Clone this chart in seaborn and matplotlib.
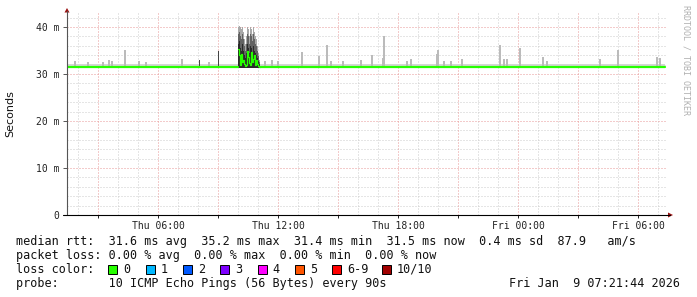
import numpy as np
import pandas as pd
import matplotlib
matplotlib.use("Agg")
import matplotlib.pyplot as plt
from matplotlib.lines import Line2D
from matplotlib.patches import Polygon, Rectangle
import seaborn as sns

# ---------------- data ----------------
x_tick_hours = [6, 12, 18, 24, 30]
x_tick_labels = ["Thu 06:00", "Thu 12:00", "Thu 18:00", "Fri 00:00", "Fri 06:00"]
y_ticks = [0, 10, 20, 30, 40]
y_tick_labels = ["0", "10 m", "20 m", "30 m", "40 m"]

# median rtt (ms), step segments (hour since Thu 00:00)
pre_hours = [1.45, 2, 3, 4, 5, 6, 7, 8, 9, 10.0]
pre_median = [31.6, 31.5, 31.6, 31.6, 31.5, 31.6, 31.6, 31.5, 31.6, 31.6]
post_hours = [11.1, 12, 13, 14, 15, 16, 17, 18, 19, 20, 21, 22, 23, 24, 25,
              26, 27, 28, 29, 30, 31, 31.35]
post_median = [31.6, 31.5, 31.6, 31.6, 31.6, 31.5, 31.6, 31.6, 31.5, 31.6, 31.5,
               31.6, 31.5, 31.5, 31.6, 31.5, 31.6, 31.5, 31.5, 31.6, 31.6, 31.6]

# burst period around Thu 10:00 - 11:00
burst_hours = [10.0, 10.05, 10.1, 10.15, 10.2, 10.25, 10.3, 10.35, 10.4, 10.45, 10.5,
               10.55, 10.6, 10.65, 10.7, 10.75, 10.8, 10.85, 10.9, 10.95, 11.0, 11.05]
burst_median = [35.3, 34.0, 32.0, 34.3, 32.5, 33.0, 32.2, 31.8, 31.9, 35.0, 33.6,
                32.4, 32.0, 34.7, 32.5, 33.2, 34.0, 32.0, 33.0, 32.2, 31.7, 31.6]
burst_low = [36.5, 37.0, 35.5, 35.0, 36.5, 35.0, 34.0, 33.5, 34.5, 36.5, 35.5,
             34.5, 36.0, 35.5, 34.5, 36.0, 35.0, 34.5, 34.0, 33.5, 32.8, 32.2]
burst_mid = [38.5, 39.0, 38.0, 37.5, 38.5, 37.5, 36.0, 35.0, 36.5, 38.5, 38.0,
             36.5, 38.5, 38.0, 37.0, 38.5, 37.5, 36.5, 36.0, 35.0, 33.8, 32.6]
burst_max = [40.0, 40.2, 40.0, 39.5, 40.0, 39.0, 37.5, 36.5, 38.0, 40.0, 39.5,
             38.0, 40.0, 39.5, 38.5, 40.0, 39.0, 38.0, 37.5, 36.0, 34.5, 33.0]

# isolated smoke spikes (max ping, ms)
spike_hours = [1.85, 2.5, 3.25, 3.55, 3.7, 4.35, 5.05, 5.4, 7.2, 8.55, 11.35, 11.7,
               12.0, 13.2, 14.05, 14.45, 14.65, 15.25, 16.15, 16.7, 17.25, 17.3,
               18.45, 18.65, 19.95, 20.0, 20.3, 20.65, 21.2, 23.1, 23.3, 23.45,
               24.1, 25.25, 25.45, 28.1, 29.0, 30.95, 31.1]
spike_ms = [32.8, 32.6, 32.6, 33.0, 32.8, 35.1, 32.8, 32.6, 33.2, 32.6, 32.8, 33.0,
            32.8, 34.7, 33.8, 36.2, 32.8, 32.8, 33.0, 34.1, 33.4, 38.1,
            32.8, 33.2, 34.3, 35.1, 32.8, 32.8, 33.2, 36.2, 33.2, 33.2,
            35.6, 33.6, 32.8, 33.2, 35.1, 33.6, 33.4]
dark_spike_hours = [8.05, 9.0]
dark_spike_ms = [32.9, 35.0]

smoke_lo, smoke_hi = 31.3, 32.2
data_start, data_end = 1.45, 31.35

legend_lines = [
    "median rtt:  31.6 ms avg  35.2 ms max  31.4 ms min  31.5 ms now  0.4 ms sd  87.9   am/s",
    "packet loss: 0.00 % avg  0.00 % max  0.00 % min  0.00 % now",
    "loss color:",
    "probe:       10 ICMP Echo Pings (56 Bytes) every 90s",
]
loss_labels = ["0", "1", "2", "3", "4", "5", "6-9", "10/10"]
loss_colors = ["#26ff00", "#00b8ff", "#0059ff", "#7e00ff", "#ff00ff", "#ff5500",
               "#ff0000", "#a10000"]
timestamp = "Fri Jan  9 07:21:44 2026"

# ---------------- figure ----------------
sns.set_style("white")
plt.rcParams["font.family"] = ["DejaVu Sans"]
W, H = 697, 297
fig = plt.figure(figsize=(W / 100, H / 100), dpi=100)

def P(x, y):
    return (x / W, 1 - y / H)

x0, x1, ytop, ybot = 67, 667, 13, 215
ax = fig.add_axes([x0 / W, 1 - ybot / H, (x1 - x0) / W, (ybot - ytop) / H])
xmin, xmax = 1.45, 31.45
ymax = 43.0
ax.set_xlim(xmin, xmax)
ax.set_ylim(0, ymax)

# grid (dotted)
dots = (0, (1, 2))
for h in range(2, 32):
    if h % 3 == 0:
        continue
    ax.axvline(h, color="#cccccc", lw=0.72, ls=dots, zorder=0)
for v in range(2, 44, 2):
    if v % 10 == 0:
        continue
    ax.axhline(v, color="#cccccc", lw=0.72, ls=dots, zorder=0)
for h in range(3, 32, 3):
    ax.axvline(h, color="#e89898", lw=0.72, ls=dots, zorder=0.5)
for v in [10, 20, 30, 40]:
    ax.axhline(v, color="#e89898", lw=0.72, ls=dots, zorder=0.5)

# smoke baseline band
ax.fill_between([data_start, data_end], [smoke_lo, smoke_lo], [smoke_hi, smoke_hi],
                color="#d6d6d6", lw=0, zorder=1)

# spikes
med_ref = 31.6
ax.bar(spike_hours, np.array(spike_ms) - med_ref, bottom=med_ref, width=0.055,
       color="#bbbbbb", lw=0, zorder=2)
ax.bar(dark_spike_hours, np.array(dark_spike_ms) - med_ref, bottom=med_ref,
       width=0.05, color="#444444", lw=0, zorder=2)

# burst smoke layers
bh = np.array(burst_hours + [11.1])
def ext(a):
    return np.array(a + [a[-1]])
ax.fill_between(bh, smoke_lo, ext(burst_max), step="post", color="#a8a8a8", lw=0, zorder=2)
ax.fill_between(bh, smoke_lo, ext(burst_mid), step="post", color="#626262", lw=0, zorder=2.1)
ax.fill_between(bh, smoke_lo, ext(burst_low), step="post", color="#2a2a2a", lw=0, zorder=2.2)

# median line
pre_df = pd.DataFrame({"hour": pre_hours, "ms": pre_median})
post_df = pd.DataFrame({"hour": post_hours, "ms": post_median})
burst_df = pd.DataFrame({"hour": burst_hours + [11.1], "ms": burst_median + [31.6]})
for d, lw in [(pre_df, 1.6), (post_df, 1.6), (burst_df, 0.9)]:
    sns.lineplot(data=d, x="hour", y="ms", estimator=None, sort=False,
                 drawstyle="steps-post", color="#26ff00", lw=lw, ax=ax, zorder=3)
ax.set_xlabel("")
ax.set_ylabel("")

# axes styling
for s in ["top", "right", "left", "bottom"]:
    ax.spines[s].set_visible(False)
mono = "DejaVu Sans Mono"
ax.set_xticks(x_tick_hours)
ax.set_xticklabels(x_tick_labels, family=mono, fontsize=7, color="#222222")
ax.set_xticks([3, 9, 15, 21, 27], minor=True)
ax.tick_params(axis="x", which="both", direction="out", length=2.5, width=0.7,
               color="#222222", pad=1.5, bottom=True)
ax.set_yticks(y_ticks)
ax.set_yticklabels(y_tick_labels, family=mono, fontsize=7, color="#222222")
ax.tick_params(axis="y", direction="out", length=3, width=0.7, color="#555555",
               pad=2.5, left=True)

# axis lines with arrows
fig.add_artist(Line2D([P(67, 0)[0], P(67, 0)[0]], [P(0, 215)[1], P(0, 11)[1]],
                      color="#555555", lw=0.8))
fig.add_artist(Line2D([P(63, 0)[0], P(670, 0)[0]], [P(0, 215)[1], P(0, 215)[1]],
                      color="#000000", lw=0.8))
fig.add_artist(Polygon([P(64.5, 12.5), P(69.5, 12.5), P(67, 8)], closed=True,
                       color="#9a1010", lw=0))
fig.add_artist(Polygon([P(668, 212.5), P(668, 217.5), P(673, 215)], closed=True,
                       color="#9a1010", lw=0))

# y label and watermark
fig.text(*P(10, 114), "Seconds", rotation=90, ha="center", va="center",
         fontsize=8, color="#111111")
fig.text(*P(686, 60), "RRDTOOL / TOBI OETIKER", rotation=-90, ha="center",
         va="center", family=mono, fontsize=6, color="#b0b0b0")

# legend
fs = 8.5
baselines = [245.5, 259, 273, 287]
for line, yb in zip(legend_lines, baselines):
    fig.text(*P(16, yb), line, family=mono, fontsize=fs, color="#111111",
             ha="left", va="baseline")
box_x = [108, 145.5, 183, 220, 257.5, 295, 332, 382]
for bx, lab, col in zip(box_x, loss_labels, loss_colors):
    fig.add_artist(Rectangle(P(bx, 273.5), 9 / W, 9 / H, facecolor=col,
                             edgecolor="#000000", lw=0.7))
    fig.text(*P(bx + 15, 273), lab, family=mono, fontsize=fs, color="#111111",
             ha="left", va="baseline")
fig.text(*P(680, 287), timestamp, family=mono, fontsize=fs, color="#111111",
         ha="right", va="baseline")

fig.savefig("out.png", dpi=100, facecolor="white")
